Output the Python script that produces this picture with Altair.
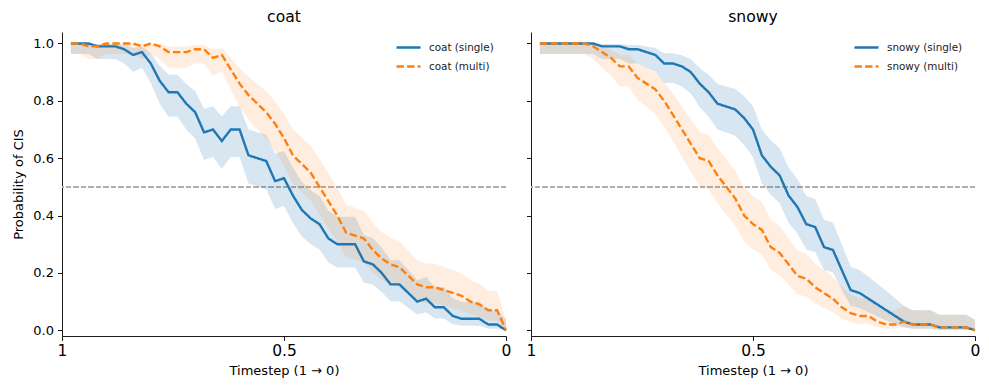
import altair as alt
import pandas as pd

# Timesteps (x), from 0.98 down to 0
TIMESTEPS = [0.98, 0.96, 0.94, 0.92, 0.90, 0.88, 0.86, 0.84, 0.82, 0.80,
             0.78, 0.76, 0.74, 0.72, 0.70, 0.68, 0.66, 0.64, 0.62, 0.60,
             0.58, 0.56, 0.54, 0.52, 0.50, 0.48, 0.46, 0.44, 0.42, 0.40,
             0.38, 0.36, 0.34, 0.32, 0.30, 0.28, 0.26, 0.24, 0.22, 0.20,
             0.18, 0.16, 0.14, 0.12, 0.10, 0.08, 0.06, 0.04, 0.02, 0.00]

COAT_SINGLE = [1.00, 1.00, 1.00, 0.99, 0.99, 0.99, 0.98, 0.96, 0.97, 0.93,
               0.87, 0.83, 0.83, 0.79, 0.76, 0.69, 0.70, 0.66, 0.70, 0.70,
               0.61, 0.60, 0.59, 0.52, 0.53, 0.47, 0.42, 0.39, 0.37, 0.32,
               0.30, 0.30, 0.30, 0.24, 0.23, 0.20, 0.16, 0.16, 0.13, 0.10,
               0.11, 0.08, 0.08, 0.05, 0.04, 0.04, 0.04, 0.02, 0.02, 0.00]

COAT_MULTI = [1.00, 1.00, 0.99, 0.99, 1.00, 1.00, 1.00, 1.00, 0.99, 1.00,
              0.99, 0.97, 0.97, 0.97, 0.98, 0.98, 0.95, 0.96, 0.91, 0.86,
              0.82, 0.79, 0.76, 0.72, 0.67, 0.61, 0.58, 0.55, 0.50, 0.45,
              0.40, 0.34, 0.33, 0.32, 0.28, 0.25, 0.23, 0.22, 0.19, 0.16,
              0.15, 0.15, 0.14, 0.13, 0.12, 0.10, 0.09, 0.07, 0.07, 0.00]

SNOWY_SINGLE = [1.00, 1.00, 1.00, 1.00, 1.00, 1.00, 1.00, 0.99, 0.99, 0.99,
                0.98, 0.98, 0.97, 0.96, 0.93, 0.93, 0.92, 0.90, 0.86, 0.83,
                0.79, 0.78, 0.77, 0.74, 0.70, 0.61, 0.57, 0.54, 0.47, 0.43,
                0.37, 0.36, 0.29, 0.28, 0.21, 0.14, 0.13, 0.11, 0.09, 0.07,
                0.05, 0.03, 0.02, 0.02, 0.02, 0.01, 0.01, 0.01, 0.01, 0.00]

SNOWY_MULTI = [1.00, 1.00, 1.00, 1.00, 1.00, 1.00, 0.99, 0.97, 0.95, 0.92,
               0.92, 0.88, 0.86, 0.84, 0.80, 0.75, 0.70, 0.65, 0.60, 0.59,
               0.54, 0.50, 0.46, 0.40, 0.37, 0.35, 0.29, 0.27, 0.23, 0.19,
               0.18, 0.15, 0.13, 0.11, 0.08, 0.06, 0.05, 0.05, 0.03, 0.02,
               0.02, 0.03, 0.02, 0.02, 0.02, 0.01, 0.01, 0.01, 0.01, 0.00]

N_SAMPLES = 100   # trials per timestep (Wilson 95% interval)
Z = 1.96

BLUE = "#1f77b4"
ORANGE = "#ff7f0e"
FONT = "DejaVu Sans"

z2 = Z * Z
denom = 1 + z2 / N_SAMPLES
center = f"((datum.p + {z2 / (2 * N_SAMPLES)}) / {denom})"
half = f"({Z / denom} * sqrt(datum.p * (1 - datum.p) / {N_SAMPLES} + {z2 / (4 * N_SAMPLES * N_SAMPLES)}))"


def panel(name, single, multi, show_y, legend_x):
    lab_s = f"{name} (single)"
    lab_m = f"{name} (multi)"
    n = len(TIMESTEPS)
    df = pd.DataFrame({
        "t": TIMESTEPS + TIMESTEPS,
        "p": single + multi,
        "series": [lab_s] * n + [lab_m] * n,
    })
    base = alt.Chart(df).transform_calculate(
        lo=f"{center} - {half}", hi=f"{center} + {half}"
    )
    x = alt.X(
        "t:Q",
        scale=alt.Scale(domain=[1, 0], nice=False, zero=False),
        axis=alt.Axis(values=[1, 0.5, 0], format="~g", title="Timestep (1 → 0)",
                      labelFlush=False, labelFontSize=15.5, titleFontSize=13,
                      labelPadding=3, titlePadding=5),
    )
    yscale = alt.Scale(domain=[-0.02, 1.04], nice=False, zero=False)
    if show_y:
        yaxis = alt.Axis(values=[0, 0.2, 0.4, 0.6, 0.8, 1.0], format=".1f",
                         title="Probability of CIS", labelFontSize=13,
                         titleFontSize=13, titlePadding=7, labelPadding=4)
    else:
        yaxis = alt.Axis(values=[0, 0.2, 0.4, 0.6, 0.8, 1.0], labels=False, title=None)
    y = alt.Y("p:Q", scale=yscale, axis=yaxis)

    dom = [lab_s, lab_m]
    legend = alt.Legend(orient="none", legendX=legend_x, legendY=2, title=None,
                        padding=0, symbolType="stroke", symbolSize=576,
                        symbolStrokeWidth=2.4, labelFontSize=10.4, labelFont=FONT,
                        labelOffset=7, rowPadding=-11, labelColor="#222")
    color = alt.Color("series:N", scale=alt.Scale(domain=dom, range=[BLUE, ORANGE]), legend=legend)
    dash = alt.StrokeDash("series:N", scale=alt.Scale(domain=dom, range=[[1, 0], [7.4, 3.2]]),
                          legend=legend)

    rule = alt.Chart(df).mark_rule(color="#b0b0b0", strokeWidth=1, strokeDash=[5, 2.5],
                                   opacity=0.9).encode(y=alt.datum(0.5, scale=yscale))
    band_s = base.transform_filter(alt.datum.series == lab_s).mark_area(
        opacity=0.18, color=BLUE).encode(
        x=x, y=alt.Y("lo:Q", scale=yscale, axis=yaxis), y2="hi:Q")
    band_m = base.transform_filter(alt.datum.series == lab_m).mark_area(
        opacity=0.13, color=ORANGE).encode(
        x=x, y=alt.Y("lo:Q", scale=yscale, axis=yaxis), y2="hi:Q")
    line_s = base.transform_filter(alt.datum.series == lab_s).mark_line(strokeWidth=2.4).encode(
        x=x, y=y, color=color, strokeDash=dash)
    line_m = base.transform_filter(alt.datum.series == lab_m).mark_line(strokeWidth=2.4).encode(
        x=x, y=y, color=color, strokeDash=dash)

    return alt.layer(rule, band_s, band_m, line_s, line_m).properties(
        width=444, height=304, title=name
    )


left = panel("coat", COAT_SINGLE, COAT_MULTI, True, 333)
right = panel("snowy", SNOWY_SINGLE, SNOWY_MULTI, False, 322)

chart = alt.hconcat(left, right, spacing=25, bounds="flush").resolve_scale(
    color="independent", strokeDash="independent"
).resolve_legend(color="independent", strokeDash="independent").properties(
    padding={"left": 4, "top": 2, "right": 0, "bottom": 2}
).configure_view(stroke=None).configure_axis(
    domainColor="black", tickColor="black", labelColor="black", titleColor="black",
    labelFont=FONT, titleFont=FONT, grid=False, tickSize=4.5, domainWidth=0.9,
    tickWidth=0.9, titleFontWeight="normal"
).configure_title(font=FONT, fontSize=15.6, fontWeight="normal", color="black", offset=6)

chart.save("out.html", embed_options={"renderer": "svg", "actions": False})
